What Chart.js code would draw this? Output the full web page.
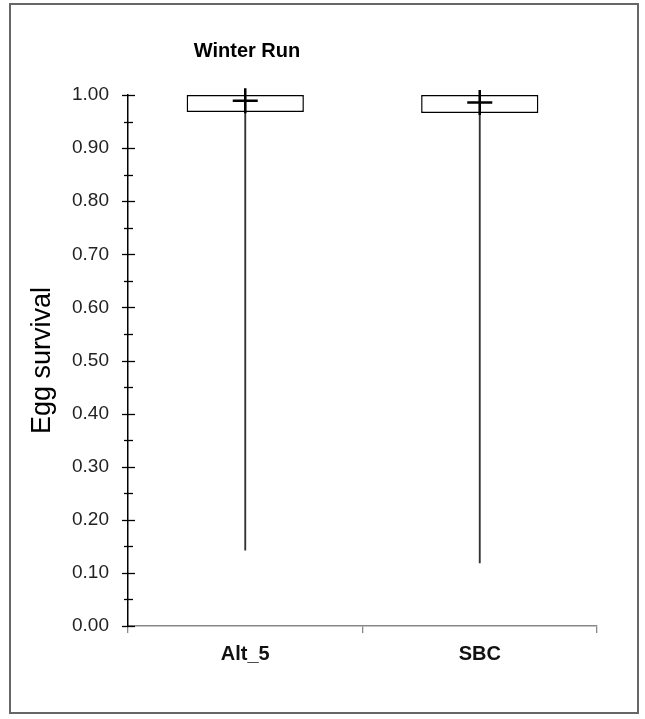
<!DOCTYPE html>
<html>
<head>
<meta charset="utf-8">
<script src="https://cdn.jsdelivr.net/npm/chart.js@4"></script>
<style>
  html, body { margin: 0; padding: 0; background: #fff; }
  #wrap { position: relative; width: 645px; height: 719px; }
  #frame { position: absolute; left: 9px; top: 3px; width: 626px; height: 707px; border: 2px solid #666; pointer-events: none; }
  canvas { position: absolute; left: 0; top: 0; }
</style>
</head>
<body>
<div id="wrap">
  <canvas id="c" width="645" height="719"></canvas>
  <div id="frame"></div>
</div>
<script>
const categories = ['Alt_5', 'SBC'];
const minValues = [0.143, 0.119];
const maxValues = [1.0, 1.0];
const q1Values = [0.968, 0.966];
const q3Values = [1.0, 1.0];
const meanValues = [0.989, 0.986];
const chartTitle = 'Winter Run';
const yAxisTitle = 'Egg survival';

const FONT = '"Liberation Sans", Arial, sans-serif';

const tickPlugin = {
  id: 'crossTicks',
  afterDraw(chart) {
    const ctx = chart.ctx;
    const y = chart.scales.y;
    const xPix = chart.scales.x.left;
    ctx.save();
    ctx.strokeStyle = '#000';
    ctx.lineWidth = 1.3;
    y.ticks.forEach(t => {
      const py = Math.round(y.getPixelForValue(t.value)) + 0.5;
      const major = Math.round(t.value * 100) % 10 === 0;
      ctx.beginPath();
      if (major) { ctx.moveTo(xPix - 6, py); ctx.lineTo(xPix + 7, py); }
      else { ctx.moveTo(xPix - 4, py); ctx.lineTo(xPix + 5, py); }
      ctx.stroke();
    });
    // title
    ctx.fillStyle = '#000';
    ctx.font = 'bold 20px ' + FONT;
    ctx.textAlign = 'center';
    ctx.textBaseline = 'middle';
    ctx.fillText(chartTitle, 247, 51);
    ctx.restore();
  }
};

new Chart(document.getElementById('c'), {
  type: 'bar',
  data: {
    labels: categories,
    datasets: [
      {
        type: 'line',
        label: 'Mean',
        data: meanValues,
        showLine: false,
        pointStyle: 'cross',
        pointRadius: 12.5,
        pointHoverRadius: 12.5,
        pointBorderWidth: 2.5,
        borderColor: '#000',
        backgroundColor: '#000',
        clip: false
      },
      {
        label: 'Range',
        data: categories.map((c, i) => [minValues[i], maxValues[i]]),
        backgroundColor: '#333',
        borderWidth: 0,
        barThickness: 1.2,
        grouped: false
      },
      {
        label: 'IQR',
        data: categories.map((c, i) => [q1Values[i], q3Values[i]]),
        backgroundColor: '#fff',
        borderColor: '#000',
        borderWidth: 1.5,
        borderSkipped: false,
        barPercentage: 0.5,
        categoryPercentage: 1.0,
        grouped: false
      }
    ]
  },
  options: {
    responsive: false,
    animation: false,
    layout: { padding: { top: 95, right: 48, left: 0, bottom: 33 } },
    plugins: { legend: { display: false }, tooltip: { enabled: false }, title: { display: false } },
    scales: {
      x: {
        offset: true,
        afterFit(s) { s.height = 60; },
        grid: { display: true, offset: true, drawOnChartArea: false, drawTicks: true, tickLength: 7, color: '#888', lineWidth: 1.3 },
        border: { display: true, color: '#888', width: 1.5 },
        ticks: { color: '#111', padding: 9, font: { family: FONT, size: 20, weight: 'bold' } }
      },
      y: {
        min: 0,
        max: 1,
        afterFit(s) { s.width = 128; },
        ticks: {
          stepSize: 0.05,
          color: '#222',
          padding: 19,
          font: { family: FONT, size: 19 },
          callback(v) { return Math.round(v * 100) % 10 === 0 ? v.toFixed(2) : ''; }
        },
        grid: { display: true, drawOnChartArea: false, drawTicks: false },
        border: { display: true, color: '#000', width: 1.5 },
        title: { display: true, text: yAxisTitle, color: '#000', padding: { top: 26, bottom: 0 }, font: { family: FONT, size: 27 } }
      }
    }
  },
  plugins: [tickPlugin]
});
</script>
</body>
</html>
